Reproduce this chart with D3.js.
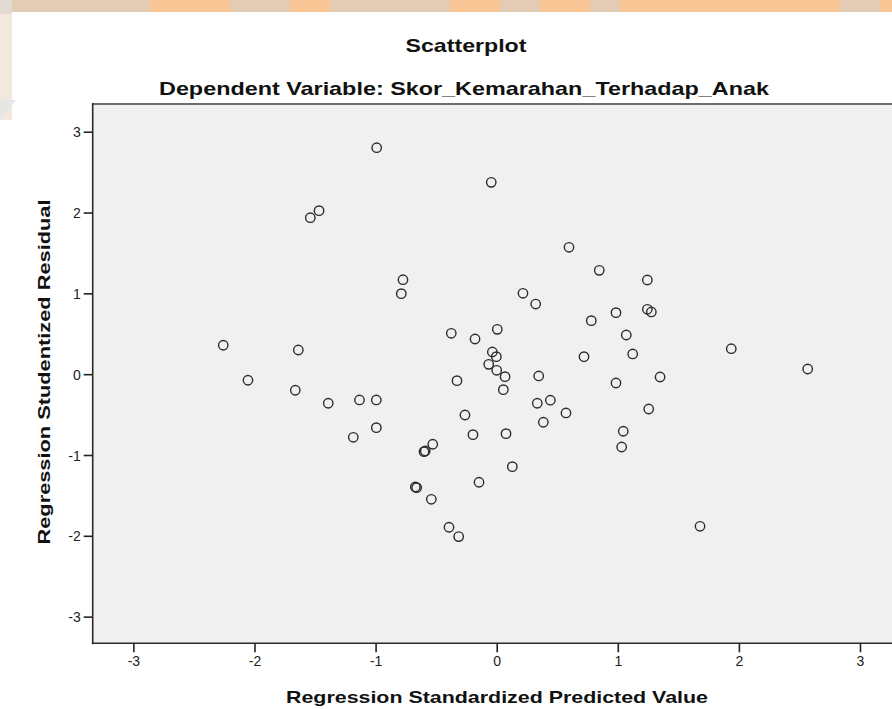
<!DOCTYPE html>
<html>
<head>
<meta charset="utf-8">
<script src="https://cdn.jsdelivr.net/npm/d3@7"></script>
<style>
	body { margin: 0; background: #fff; }
	text { font-family: "Liberation Sans", Arial, sans-serif; }
</style>
</head>
<body>
<svg id="chart" width="892" height="709"></svg>
<script>
	// chart values
	var title = "Scatterplot";
	var subtitle = "Dependent Variable: Skor_Kemarahan_Terhadap_Anak";
	var xLabel = "Regression Standardized Predicted Value";
	var yLabel = "Regression Studentized Residual";
	var xTicks = [ -3, -2, -1, 0, 1, 2, 3 ];
	var yTicks = [ -3, -2, -1, 0, 1, 2, 3 ];

	// standardized predicted value (x) and studentized residual (y), one pair per case
	var predicted = [ -0.991, -0.045, -1.539, -1.467, 0.597, 0.847, 1.244, -0.774, -0.788, 0.217,
		0.322, 0.985, 1.244, 1.277, 0.781, 1.070, -0.375, -0.179, 0.005, -2.258,
		-1.638, 1.937, 0.721, 1.123, -0.036, -0.003, -0.066, 0.000, 0.069, 0.055,
		2.568, -2.054, -0.328, 0.347, 1.349, 0.985, -1.663, -1.391, -1.133, -0.994,
		0.335, 0.443, 0.572, -0.262, 0.385, 1.255, -1.184, -0.994, -0.196, 0.077,
		1.045, 1.032, -0.528, -0.600, -0.590, 0.129, -0.672, -0.661, -0.540, -0.146,
		-0.394, -0.314, 1.679 ];
	var residual = [ 2.802, 2.374, 1.936, 2.023, 1.570, 1.285, 1.165, 1.169, 0.996, 1.001,
		0.868, 0.761, 0.803, 0.770, 0.662, 0.485, 0.506, 0.435, 0.555, 0.358,
		0.299, 0.315, 0.217, 0.250, 0.275, 0.217, 0.122, 0.048, -0.031, -0.192,
		0.064, -0.075, -0.080, -0.022, -0.035, -0.109, -0.199, -0.360, -0.319, -0.319,
		-0.360, -0.322, -0.480, -0.505, -0.595, -0.431, -0.781, -0.662, -0.748, -0.736,
		-0.706, -0.901, -0.867, -0.959, -0.950, -1.144, -1.396, -1.404, -1.548, -1.337,
		-1.894, -2.010, -1.882 ];

	var svg = d3.select("#chart");
	var W = 892, H = 709;

	// faint watermark strip behind the white page
	var wm = svg.append("g").attr("class", "watermark");
	wm.append("rect").attr("x", 0).attr("y", 0).attr("width", W).attr("height", 14).style("fill", "#f8c594");
	wm.append("rect").attr("x", 0).attr("y", 0).attr("width", 12).attr("height", 120).style("fill", "#f2e8de");
	var blobs = [ [ 0, 0, 150 ], [ 230, 0, 60 ], [ 330, 0, 120 ], [ 500, 0, 40 ], [ 590, 0, 30 ], [ 840, 0, 40 ] ];
	blobs.forEach(function(b) {
		wm.append("rect").attr("x", b[0]).attr("y", b[1]).attr("width", b[2]).attr("height", 14)
			.style("fill", "#d6d0ca").style("opacity", 0.6);
	});
	svg.append("rect").attr("x", 12).attr("y", 12).attr("width", W - 12).attr("height", H - 12).style("fill", "#fff");
	svg.append("path").attr("d", "M0,100 L16,100 L0,120 Z").style("fill", "#e6e6e6");

	var xScale = d3.scaleLinear().domain([ -3.336, 3.336 ]).range([ 92.7, 900.7 ]);
	var yScale = d3.scaleLinear().domain([ -3.33, 3.343 ]).range([ 643.3, 104 ]);

	var x0 = xScale.range()[0], x1 = xScale.range()[1];
	var y0 = yScale.range()[1], y1 = yScale.range()[0];

	svg.append("rect").attr("x", x0).attr("y", y0).attr("width", x1 - x0).attr("height", y1 - y0)
		.style("fill", "#f0f0f0").style("stroke", "none");

	// plain hyphen for negatives, like the original
	var fmt = function(d) { return String(d); };
	var xAxis = d3.axisBottom(xScale).tickValues(xTicks).tickSize(9).tickPadding(4).tickFormat(fmt);
	var yAxis = d3.axisLeft(yScale).tickValues(yTicks).tickSize(9).tickPadding(3).tickFormat(fmt);

	var gx = svg.append("g").attr("transform", "translate(0," + y1 + ")").call(xAxis);
	var gy = svg.append("g").attr("transform", "translate(" + x0 + ",0)").call(yAxis);
	[ gx, gy ].forEach(function(g) {
		g.select(".domain").remove();
		g.selectAll(".tick line").style("stroke", "#222").style("stroke-width", 1.6);
		g.selectAll(".tick text").style("font-size", "14px").style("fill", "#222")
			.style("font-family", "'Liberation Sans', Arial, sans-serif");
	});
	gy.selectAll(".tick text").attr("dy", "0.36em");

	// frame: top in grey, left and bottom in near black
	svg.append("line").attr("x1", x0).attr("x2", x1).attr("y1", y0).attr("y2", y0)
		.style("stroke", "#6e6e6e").style("stroke-width", 2.2);
	svg.append("line").attr("x1", x0).attr("x2", x0).attr("y1", y0 - 1).attr("y2", y1 + 1)
		.style("stroke", "#2a2a2a").style("stroke-width", 1.6);
	svg.append("line").attr("x1", x0 - 0.8).attr("x2", x1).attr("y1", y1).attr("y2", y1)
		.style("stroke", "#2a2a2a").style("stroke-width", 1.6);

	var points = predicted.map(function(p, i) {
		return { x : p, y : residual[i] };
	});
	svg.append("g").selectAll("circle").data(points).enter().append("circle")
		.attr("cx", function(d) { return xScale(d.x); })
		.attr("cy", function(d) { return yScale(d.y); })
		.attr("r", 4.7)
		.style("fill", "none")
		.style("stroke", "#2b2b2b")
		.style("stroke-width", 1.4);

	// titles
	svg.append("text").attr("x", 466).attr("y", 52).attr("text-anchor", "middle")
		.attr("textLength", 121).attr("lengthAdjust", "spacingAndGlyphs")
		.style("font-size", "19px").style("font-weight", "bold").style("fill", "#111").text(title);
	svg.append("text").attr("x", 464).attr("y", 95).attr("text-anchor", "middle")
		.attr("textLength", 610).attr("lengthAdjust", "spacingAndGlyphs")
		.style("font-size", "19px").style("font-weight", "bold").style("fill", "#111").text(subtitle);
	svg.append("text").attr("x", 497).attr("y", 703).attr("text-anchor", "middle")
		.attr("textLength", 422).attr("lengthAdjust", "spacingAndGlyphs")
		.style("font-size", "17px").style("font-weight", "bold").style("fill", "#111").text(xLabel);
	svg.append("text").attr("transform", "translate(50,372) rotate(-90)").attr("text-anchor", "middle")
		.attr("textLength", 345).attr("lengthAdjust", "spacingAndGlyphs")
		.style("font-size", "17px").style("font-weight", "bold").style("fill", "#111").text(yLabel);
</script>
</body>
</html>
